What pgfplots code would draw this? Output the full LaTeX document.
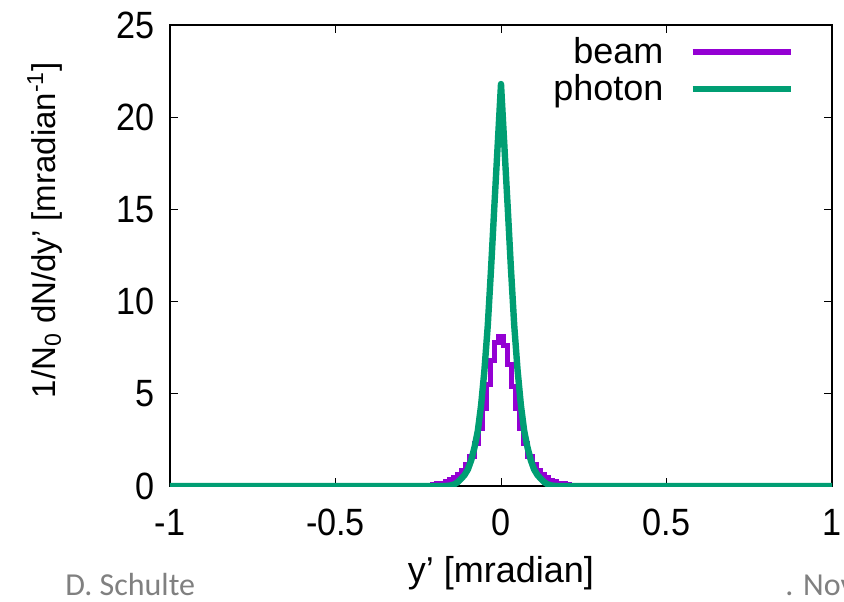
\documentclass[border=0pt]{standalone}
\usepackage{fontspec}
\setmainfont{Liberation Sans}
\newfontfamily\tickfont{Liberation Sans}[FakeStretch=0.9]
\newfontfamily\footfont{Carlito}
\usepackage{pgfplots}
\pgfplotsset{compat=1.18}
\definecolor{beamc}{HTML}{9400D3}
\definecolor{photc}{HTML}{009E73}
\definecolor{footgray}{HTML}{808080}

\pgfplotstableread{
x y
-1.0 0
-0.2625 0
-0.25 0.015
-0.2375 0.02
-0.225 0.03
-0.2125 0.05
-0.2 0.07
-0.1875 0.11
-0.175 0.16
-0.1625 0.24
-0.15 0.33
-0.1375 0.46
-0.125 0.64
-0.1125 0.86
-0.1 1.18
-0.0875 1.62
-0.075 2.3
-0.0625 3.1
-0.05 4.2
-0.0375 5.5
-0.025 6.8
-0.0125 7.8
0.0 8.1
0.0125 7.6
0.025 6.6
0.0375 5.4
0.05 4.2
0.0625 3.1
0.075 2.3
0.0875 1.6
0.1 1.15
0.1125 0.84
0.125 0.62
0.1375 0.45
0.15 0.32
0.1625 0.23
0.175 0.16
0.1875 0.11
0.2 0.07
0.2125 0.05
0.225 0.03
0.2375 0.02
0.25 0.015
0.2625 0
1.0 0
}\beamtable

\pgfplotstableread{
x y
-1.0 0
-0.17 0
-0.16 0.01
-0.15 0.04
-0.14 0.1
-0.13 0.22
-0.12 0.4
-0.11 0.6
-0.1 0.9
-0.09 1.4
-0.08 2.1
-0.07 3.0
-0.06 4.4
-0.05 6.3
-0.04 8.7
-0.03 11.8
-0.02 15.2
-0.01 18.5
0.0 21.8
0.01 18.5
0.02 15.2
0.03 11.8
0.04 8.7
0.05 6.3
0.06 4.4
0.07 3.0
0.08 2.1
0.09 1.4
0.1 0.9
0.11 0.6
0.12 0.4
0.13 0.22
0.14 0.1
0.15 0.04
0.16 0.01
0.17 0
1.0 0
}\photontable

\begin{document}
\begin{tikzpicture}
\begin{axis}[
  scale only axis,
  width=331pt, height=230.5pt,
  xmin=-1, xmax=1, ymin=0, ymax=25,
  xtick={-1,-0.5,0,0.5,1},
  ytick={0,5,10,15,20,25},
  tick align=inside,
  major tick length=4pt,
  tick style={black, line width=0.5pt},
  axis line style={black, line width=0.8pt},
  font=\fontsize{18}{21}\selectfont,
  /pgf/number format/assume math mode=true,
  ticklabel style={font=\tickfont\fontsize{19}{21}\selectfont},
  xticklabel style={yshift=-8pt},
  yticklabel style={xshift=-4pt},
  xlabel={y’ [mradian]},
  xlabel style={at={(axis description cs:0.5,-0.189)}, anchor=center},
  ylabel={1/N\textsubscript{0} dN/dy’ [mradian\textsuperscript{-1}]},
  ylabel style={at={(axis description cs:-0.189,0.555)}, anchor=center, rotate=0, font=\fontsize{16.5}{20}\selectfont},
  legend plot pos=right,
  legend cell align=right,
  legend style={at={(axis description cs:1,1)}, anchor=north east,
    xshift=-16pt, yshift=-2pt, draw=none, fill=none,
    row sep=0pt, font=\fontsize{18}{21}\selectfont},
  legend image code/.code={\path (0pt,0pt); \draw[#1, line width=3pt] (11pt,0pt) -- (60pt,0pt);},
]
\addplot[beamc, line width=2.5pt, const plot mark mid] table[x=x,y=y] {\beamtable};
\addlegendentry{beam}
\addplot[photc, line width=3.2pt, line join=round] table[x=x,y=y] {\photontable};
\addlegendentry{photon}
\end{axis}
\node[anchor=base west, text=footgray, font=\footfont\fontsize{16}{19}\selectfont, inner sep=0pt]
  at ([shift={(-52.5pt,-54.5pt)}]current axis.south west) {D. Schulte};
\node[anchor=base west, text=footgray, font=\footfont\fontsize{16}{19}\selectfont, inner sep=0pt]
  at ([shift={(307.5pt,-54.5pt)}]current axis.south west) {. November};
\pgfresetboundingbox
\path[use as bounding box] ([shift={(-85pt,-57.5pt)}]current axis.south west) rectangle ([shift={(337pt,243pt)}]current axis.south west);
\end{tikzpicture}
\end{document}
